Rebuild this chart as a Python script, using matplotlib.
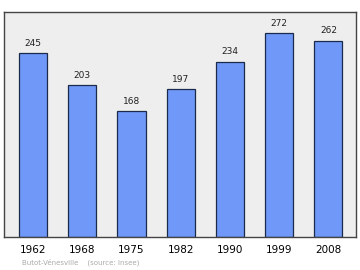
import matplotlib
matplotlib.use("Agg")
import matplotlib.pyplot as plt

plt.rcParams["font.family"] = ["DejaVu Sans"]

years = ["1962", "1968", "1975", "1982", "1990", "1999", "2008"]
population = [245, 203, 168, 197, 234, 272, 262]

fig = plt.figure(figsize=(3.6, 2.7), dpi=100)
ax = fig.add_axes([4/360, 1 - 237/270, 352/360, 225/270])
ax.set_facecolor("#eeeeee")
x = list(range(len(years)))
ax.bar(x, population, width=0.57, color="#6f98f8", edgecolor="#1a2a4a", linewidth=0.9, zorder=2)
for xi, v in zip(x, population):
    ax.text(xi, v + 7, str(v), ha="center", va="bottom", fontsize=6.5, color="#222222")
ax.set_xlim(-0.59, 6.56)
ax.set_ylim(0, 300)
ax.set_yticks([])
ax.set_xticks(x)
ax.set_xticklabels(years, fontsize=7.5)
ax.tick_params(axis="x", length=0, pad=6)
for s in ax.spines.values():
    s.set_color("#444444")
    s.set_linewidth(1.0)
fig.text(22/360, 1 - 262/270, "Butot-Vénesville    (source: Insee)", fontsize=5, color="#aaaaaa", va="center")
fig.savefig("out.png", dpi=100)
